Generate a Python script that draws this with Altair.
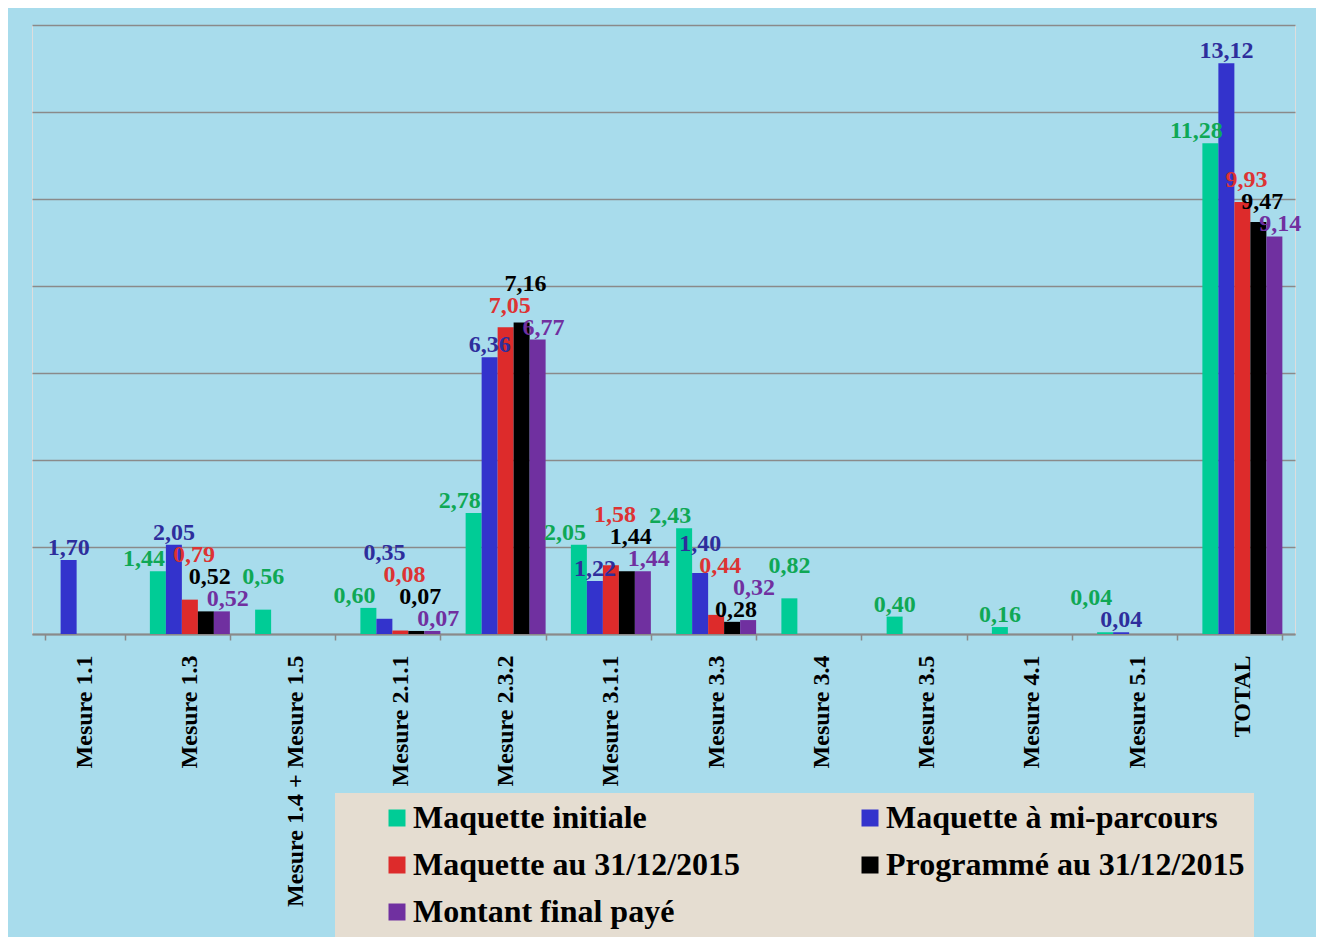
import altair as alt
import pandas as pd

# ---------------- data ----------------
categories = ["Mesure 1.1", "Mesure 1.3", "Mesure 1.4 + Mesure 1.5", "Mesure 2.1.1",
              "Mesure 2.3.2", "Mesure 3.1.1", "Mesure 3.3", "Mesure 3.4", "Mesure 3.5",
              "Mesure 4.1", "Mesure 5.1", "TOTAL"]
series = ["Maquette initiale", "Maquette à mi-parcours", "Maquette au 31/12/2015",
          "Programmé au 31/12/2015", "Montant final payé"]
maquette_initiale = [None, 1.44, 0.56, 0.60, 2.78, 2.05, 2.43, 0.82, 0.40, 0.16, 0.04, 11.28]
maquette_mi_parcours = [1.70, 2.05, None, 0.35, 6.36, 1.22, 1.40, None, None, None, 0.04, 13.12]
maquette_2015 = [None, 0.79, None, 0.08, 7.05, 1.58, 0.44, None, None, None, None, 9.93]
programme_2015 = [None, 0.52, None, 0.07, 7.16, 1.44, 0.28, None, None, None, None, 9.47]
montant_final = [None, 0.52, None, 0.07, 6.77, 1.44, 0.32, None, None, None, None, 9.14]
values_by_series = [maquette_initiale, maquette_mi_parcours, maquette_2015, programme_2015, montant_final]

# ---------------- style ----------------
bar_colors = ["#00cc96", "#3333cc", "#dd2b2b", "#000000", "#7030a0"]
label_colors = ["#0fa855", "#2e2e9c", "#dd3333", "#000000", "#7030a0"]
label_dx = [-14, 0, 4, 4, 6]
FONT = "Liberation Serif"
FS = 24
W, H, YMAX = 1263, 609, 14
PAD_INNER, PAD_OUTER = 0.24, 0.12

rows = []
for s, vals in zip(series, values_by_series):
    for c, v in zip(categories, vals):
        if v is not None:
            rows.append({"cat": c, "series": s, "value": v,
                         "label": f"{v:.2f}".replace(".", ",")})
count_per_cat = {c: sum(1 for r in rows if r["cat"] == c) for c in categories}
for r in rows:
    r["solo"] = count_per_cat[r["cat"]] == 1
df = pd.DataFrame(rows)

# ---- simple label layout: avoid overlaps by stacking upward ----
ppu = H / YMAX
step = W / len(categories)
slot = step * (1 - PAD_INNER) / len(series)
PITCH = 22
TOL = 4


def text_w(s):
    return sum(250 if ch == "," else 500 for ch in s) * FS / 1000


items = []
for r in rows:
    ci, si = categories.index(r["cat"]), series.index(r["series"])
    dx = 0 if r["solo"] else label_dx[si]
    cx = (ci + 0.5) * step + (si - 2) * slot + dx
    items.append((r["value"], -cx, cx, r))
items.sort(key=lambda t: (t[0], t[1]))

placed = []
label_y = {}
for v, _, cx, r in items:
    w = text_w(r["label"])
    xl, xr = cx - w / 2, cx + w / 2
    b = H - v * ppu - 5
    moved = True
    while moved:
        moved = False
        for (pl, pr, pb) in placed:
            if xl < pr - TOL and xr > pl + TOL and abs(b - pb) < PITCH - 0.5:
                b = pb - PITCH
                moved = True
    placed.append((xl, xr, b))
    label_y[(r["cat"], r["series"])] = (H - b) / ppu

df["label_y"] = [label_y[(c, s)] for c, s in zip(df["cat"], df["series"])]

x_enc = alt.X("cat:N", sort=categories,
              scale=alt.Scale(domain=categories, paddingInner=PAD_INNER, paddingOuter=PAD_OUTER),
              axis=alt.Axis(title=None, labelAngle=-90, labelFont=FONT, labelFontSize=24,
                            labelFontWeight="bold", labelColor="#000000", labelPadding=15,
                            labelLimit=400, tickSize=6, tickColor="#8a8a8a", tickWidth=1.5,
                            tickBand="extent", domainColor="#8a8a8a", domainWidth=2, grid=False))
xo_enc = alt.XOffset("series:N", scale=alt.Scale(domain=series))

bars = alt.Chart(df).mark_bar().encode(
    x=x_enc,
    xOffset=xo_enc,
    y=alt.Y("value:Q", scale=alt.Scale(domain=[0, YMAX], nice=False),
            axis=alt.Axis(title=None, labels=False, ticks=False, domain=False, grid=True,
                          values=list(range(0, YMAX + 1, 2)), gridColor="#8a8a8a",
                          gridWidth=1.5)),
    color=alt.Color("series:N", scale=alt.Scale(domain=series, range=bar_colors),
                    legend=alt.Legend(orient="none", legendX=303, legendY=768, columns=2,
                                      direction="horizontal",
                                      title=None, labelFont=FONT, labelFontSize=32,
                                      labelFontWeight="bold", labelColor="#000000",
                                      symbolType="square", symbolSize=289,
                                      symbolStrokeWidth=0, labelOffset=0, rowPadding=15,
                                      columnPadding=76, padding=9, symbolOffset=37,
                                      fillColor="#e5ddd1", labelLimit=600)),
)

texts = []
for i, s in enumerate(series):
    for solo in (False, True):
        t = alt.Chart(df).transform_filter(
            (alt.datum.series == s) & (alt.datum.solo == solo)
        ).mark_text(
            dx=0 if solo else label_dx[i], baseline="alphabetic", align="center", font=FONT,
            fontSize=FS, fontWeight="bold", color=label_colors[i]
        ).encode(
            x=alt.X("cat:N", sort=categories),
            xOffset=xo_enc,
            y=alt.Y("label_y:Q"),
            text="label:N",
        )
        texts.append(t)

chart = alt.layer(bars, *texts).properties(
    width=W, height=H,
    padding={"left": 24, "top": 17, "right": 21, "bottom": 303},
    autosize=alt.AutoSizeParams(type="none"),
    background="#a8dcec",
).configure_view(fill="#e5ddd1", stroke=None).configure(font=FONT)

chart.save("out.html", embed_options={"renderer": "svg", "actions": False})
